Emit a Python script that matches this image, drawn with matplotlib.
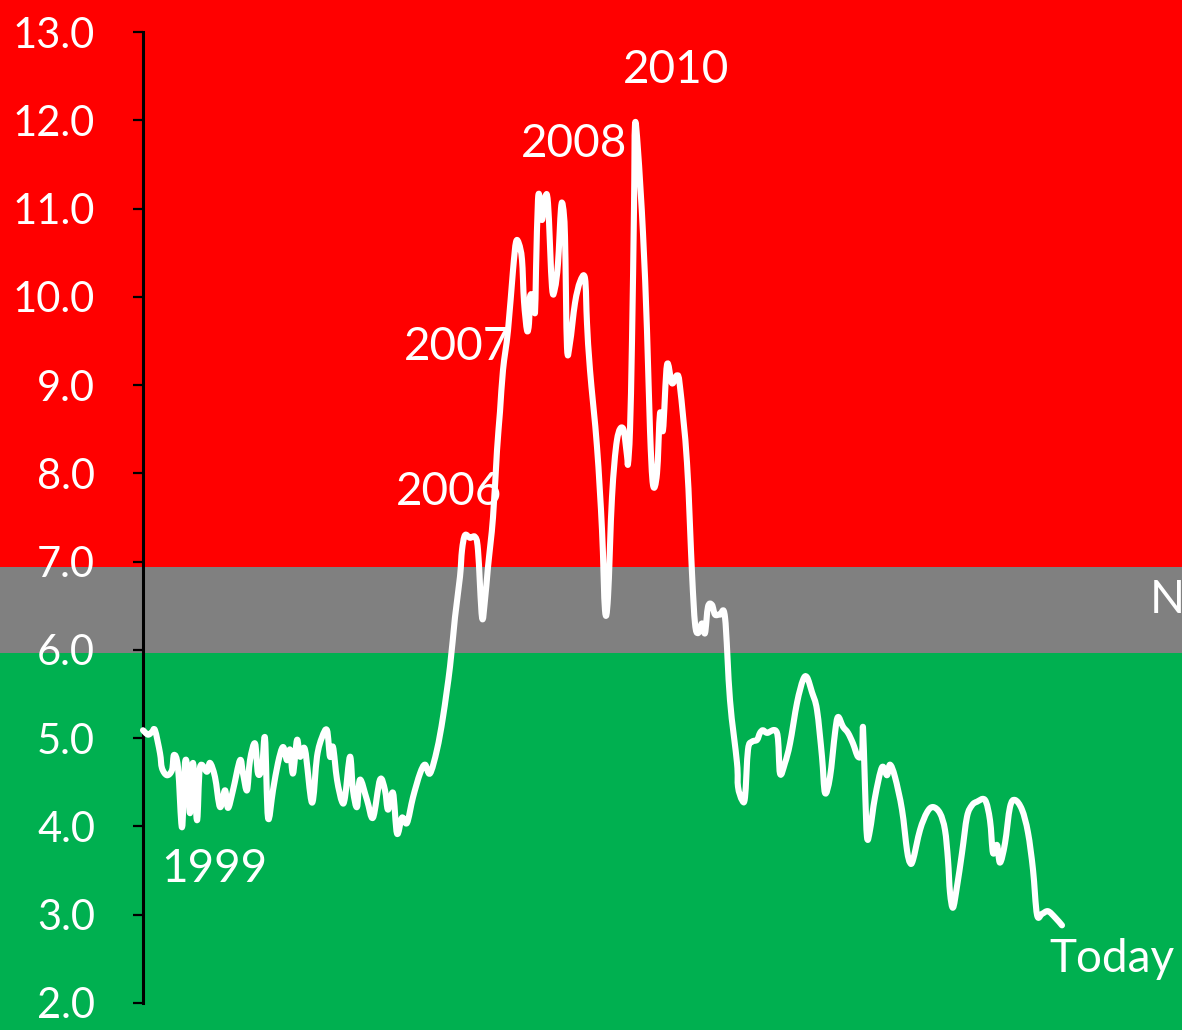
import matplotlib
matplotlib.use("Agg")
import matplotlib.pyplot as plt
import numpy as np
from matplotlib.patches import Rectangle, PathPatch
from matplotlib.path import Path
from matplotlib.transforms import blended_transform_factory

plt.rcParams['font.family'] = ['Lato', 'DejaVu Sans']

# months since Jan 1999
months = [0, 1, 1.8, 2.4, 3.4, 3.8, 4.8, 5.8, 6.2, 7, 7.8, 8.4, 9, 9.4, 10, 10.8,
          11.4, 12.8, 13.4, 14.4, 15.4, 16.4, 17, 18, 19.4, 20, 20.8, 21.4, 22.4, 23,
          23.8, 24.4, 25, 26, 27, 28, 28.8, 29.4, 30, 30.8, 31.4, 32.4, 33.8, 34.8,
          35.8, 36.8, 37.4, 38, 38.8, 39.8, 40.4, 41.4, 42, 42.8, 43.4, 44.8, 46,
          47.4, 48.4, 49, 50, 50.8, 51.8, 52.8, 54, 55.4, 56.4, 57.4, 58.8, 60, 61.4,
          62.4, 63.4, 63.8, 64.4, 65.4, 66.4, 67, 67.8, 68.4, 69, 70, 70.8, 71.4, 72,
          73, 74, 74.6, 75.2, 75.8, 76.2, 76.8, 77.2, 77.4, 78, 78.4, 78.6, 79, 79.4,
          79.8, 80.4, 81, 81.8, 82.4, 83, 83.6, 84, 84.4, 84.8, 85.4, 86.4, 87.4, 88.4,
          88.8, 89.4, 90.8, 91.8, 92.4, 93, 93.8, 94.8, 96, 96.8, 97, 97.4, 97.8, 98.2,
          98.4, 99, 100, 100.8, 101.4, 102, 102.8, 103.4, 104, 104.8, 105.8, 106.8,
          107.4, 108.8, 109.8, 110.4, 111, 111.8, 112.4, 113, 113.8, 114.4, 115.4,
          116.4, 117.4, 118.8, 119, 119.8, 120.4, 121, 121.8, 122.8, 123.4, 124, 124.8,
          126.8, 127.4, 128.4, 129.4, 130.8, 132, 132.8, 133.8, 134.8, 135.8, 136.4,
          137.4, 138.4, 139, 140, 141, 142, 143, 143.8, 144, 144.4, 144.8, 145.4, 146.4,
          147.8, 148.8, 149.4, 150.4, 151.8, 152.8, 153.4, 154, 155.4, 156.8, 158,
          159.4, 160.4, 161, 161.4, 162, 162.8, 163.8, 164.8, 165.8, 166.8, 168.4,
          169.4, 170, 170.8, 171.4, 172.4, 173.4, 174.4, 175.8, 177, 178, 178.8, 179.8,
          181, 182.4, 183.8]

values = [5.09, 5.04, 5.07, 5.09, 4.83, 4.66, 4.58, 4.64, 4.81, 4.67, 3.99, 4.72, 4.6,
          4.15, 4.72, 4.07, 4.67, 4.62, 4.72, 4.56, 4.22, 4.41, 4.21, 4.41, 4.75, 4.6,
          4.41, 4.75, 4.94, 4.6, 4.67, 5.0, 4.1, 4.41, 4.72, 4.9, 4.75, 4.87, 4.6, 4.98,
          4.79, 4.87, 4.27, 4.79, 5.01, 5.09, 4.79, 4.9, 4.53, 4.28, 4.33, 4.79, 4.41,
          4.22, 4.53, 4.3, 4.1, 4.53, 4.41, 4.19, 4.38, 3.92, 4.1, 4.04, 4.33, 4.6, 4.7,
          4.6, 4.87, 5.24, 5.81, 6.37, 6.83, 7.13, 7.3, 7.27, 7.28, 7.13, 6.37, 6.57,
          6.94, 7.5, 8.26, 8.7, 9.17, 9.62, 10.3, 10.62, 10.6, 10.42, 9.95, 9.62, 9.7,
          10.0, 10.0, 9.82, 10.3, 11.1, 11.1, 10.87, 11.12, 11.06, 10.11, 10.1, 10.38,
          11.0, 11.02, 10.68, 9.43, 9.48, 9.93, 10.17, 10.21, 9.7, 9.17, 8.3, 7.36,
          6.45, 6.6, 7.73, 8.38, 8.51, 8.2, 8.11, 8.49, 9.5, 11.0, 11.95, 11.66, 10.72,
          9.62, 8.49, 7.87, 8.0, 8.68, 8.49, 9.23, 9.02, 9.11, 8.98, 8.12, 6.87, 6.3,
          6.19, 6.3, 6.19, 6.49, 6.51, 6.4, 6.4, 6.37, 5.43, 4.72, 4.45, 4.3, 4.33,
          4.87, 4.96, 4.98, 5.06, 5.09, 5.06, 5.06, 4.6, 4.72, 4.94, 5.4, 5.66, 5.69,
          5.52, 5.32, 4.79, 4.38, 4.56, 5.06, 5.24, 5.13, 5.06, 4.94, 4.79, 4.83, 5.12,
          4.45, 3.88, 3.96, 4.33, 4.67, 4.58, 4.7, 4.56, 4.19, 3.73, 3.59, 3.62, 3.96,
          4.16, 4.22, 4.15, 3.96, 3.62, 3.25, 3.08, 3.32, 3.7, 4.11, 4.24, 4.28, 4.3,
          4.07, 3.7, 3.79, 3.59, 3.81, 4.22, 4.3, 4.19, 3.93, 3.51, 3.0, 3.01, 3.04,
          2.97, 2.88]

# zone limits and colours
zone_bounds = [-10, 5.97, 6.94, 20]
zone_colors = ['#00B050', '#808080', '#FF0000']

# annotations: (text, month, value at baseline)
labels = [("1999", 14.3, 3.37), ("2006", 61.2, 7.64), ("2007", 62.9, 9.28),
          ("2008", 86.2, 11.58), ("2010", 106.7, 12.42), ("Today", 193.7, 2.35)]
zone_label = ("Normal", 201.4, 6.42)


def smooth_path(x, y):
    # Catmull-Rom style bezier through every point (like a smoothed Excel line)
    pts = np.column_stack([x, y])
    verts = [pts[0]]
    codes = [Path.MOVETO]
    n = len(pts)
    for i in range(n - 1):
        p0 = pts[max(i - 1, 0)]
        p1 = pts[i]
        p2 = pts[i + 1]
        p3 = pts[min(i + 2, n - 1)]
        c1 = p1 + (p2 - p0) / 6.0
        c2 = p2 - (p3 - p1) / 6.0
        verts += [c1, c2, p2]
        codes += [Path.CURVE4] * 3
    return Path(verts, codes)


fig = plt.figure(figsize=(11.82, 10.30), dpi=100)
ax = fig.add_axes([143 / 1182, 27 / 1030, 1039 / 1182, 971 / 1030])
ax.set_facecolor('none')

# coloured bands across the whole figure width, behind the axes
trans = blended_transform_factory(fig.transFigure, ax.transData)
for lo, hi, c in zip(zone_bounds[:-1], zone_bounds[1:], zone_colors):
    rect = Rectangle((0, lo), 1, hi - lo, transform=trans, facecolor=c,
                     edgecolor='none', clip_on=False, zorder=-5)
    rect.set_figure(fig)
    fig.patches.append(rect)

line = PathPatch(smooth_path(months, values), facecolor='none', edgecolor='white',
                 lw=4.4, joinstyle='round', capstyle='round', zorder=3, clip_on=False)
ax.add_patch(line)

ax.set_ylim(2, 13)
ax.set_xlim(0, 207.8)
ax.set_yticks(range(2, 14))
ax.set_yticklabels([f"{v:.1f}" for v in range(2, 14)])
ax.tick_params(axis='y', direction='out', length=7.5, width=1.6, color='black',
               labelcolor='white', labelsize=30, pad=27)
ax.set_xticks([])
for s in ['top', 'right', 'bottom']:
    ax.spines[s].set_visible(False)
ax.spines['left'].set_color('black')
ax.spines['left'].set_linewidth(2.2)

for txt, x, y in labels:
    ax.text(x, y, txt, color='white', fontsize=33, ha='center', va='baseline',
            zorder=2, clip_on=False)
ax.text(zone_label[1], zone_label[2], zone_label[0], color='white', fontsize=33,
        ha='left', va='baseline', zorder=2, clip_on=False)

fig.savefig('out.png', dpi=100)
